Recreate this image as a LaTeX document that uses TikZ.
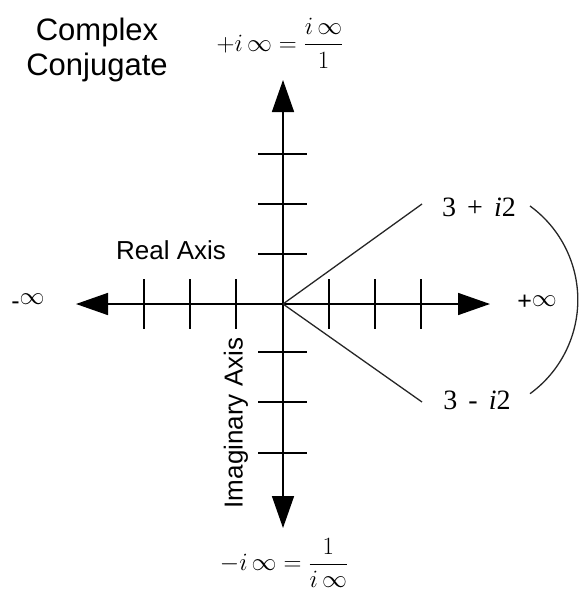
\documentclass[tikz,border=0pt]{standalone}
\usepackage{amsmath}
\usepackage{fontspec}
\setmainfont{Liberation Sans}
\newfontfamily\tms{Liberation Serif}
\usetikzlibrary{arrows.meta}
\begin{document}
\begin{tikzpicture}[x=1pt,y=-1pt,
  axis/.style={line width=1.6pt,-{Triangle[length=32pt,width=22pt]}},
  tick/.style={line width=1.5pt},
  ray/.style={line width=1.3pt,draw=black!85},
  lbl/.style={inner sep=0pt,font=\fontsize{26}{30}\selectfont},
  big/.style={inner sep=0pt,font=\fontsize{31}{35}\selectfont},
  ser/.style={inner sep=0pt,font=\tms\fontsize{28}{30}\selectfont},
  mth/.style={inner sep=0pt,font=\fontsize{28}{32}\selectfont},
  inf/.style={inner sep=0pt,font=\fontsize{25}{27}\selectfont}]
\useasboundingbox (0,0) rectangle (578,594);
\coordinate (O) at (283,304);
\coordinate (L) at (76,304);
\coordinate (R) at (490,304);
\coordinate (T) at (283,80);
\coordinate (B) at (283,528);
\draw[axis] (O) -- (L);
\draw[axis] (O) -- (R);
\draw[axis] (O) -- (T);
\draw[axis] (O) -- (B);
\foreach \x in {144,190,236,329,375,421} \draw[tick] (\x,279) -- (\x,329);
\foreach \y in {154,204,254,352,402,453} \draw[tick] (258,\y) -- (307,\y);
\node[ser] (pl) at (479,207) {3\hspace{11pt}+\hspace{11pt}\textit{i}2};
\node[ser] (mi) at (477,400) {3\hspace{11pt}-\hspace{11pt}\textit{i}2};
\coordinate (pe) at (422,204);
\coordinate (me) at (422,402);
\draw[ray] (O) -- (pe);
\draw[ray] (O) -- (me);
\coordinate (a1) at (530,206);
\draw[ray] (a1) arc[start angle=-54,end angle=54,radius=116];
\node[big,align=center] (cc) at (97,50) {Complex\\Conjugate};
\node[lbl] (ra) at (171,250) {Real Axis};
\node[lbl,rotate=90] (ia) at (236,423) {Imaginary Axis};
\node[inf] (ninf) at (28,302) {\raisebox{-2pt}{-}\raisebox{3pt}{$\infty$}};
\node[inf] (pinf) at (537,302) {+\raisebox{3pt}{$\infty$}};
\node[mth] (top) at (280,43) {$+i\,\infty=\dfrac{i\,\infty}{1}$};
\node[mth] (bot) at (284,563) {$-i\,\infty=\dfrac{1}{i\,\infty}$};
\end{tikzpicture}
\end{document}
